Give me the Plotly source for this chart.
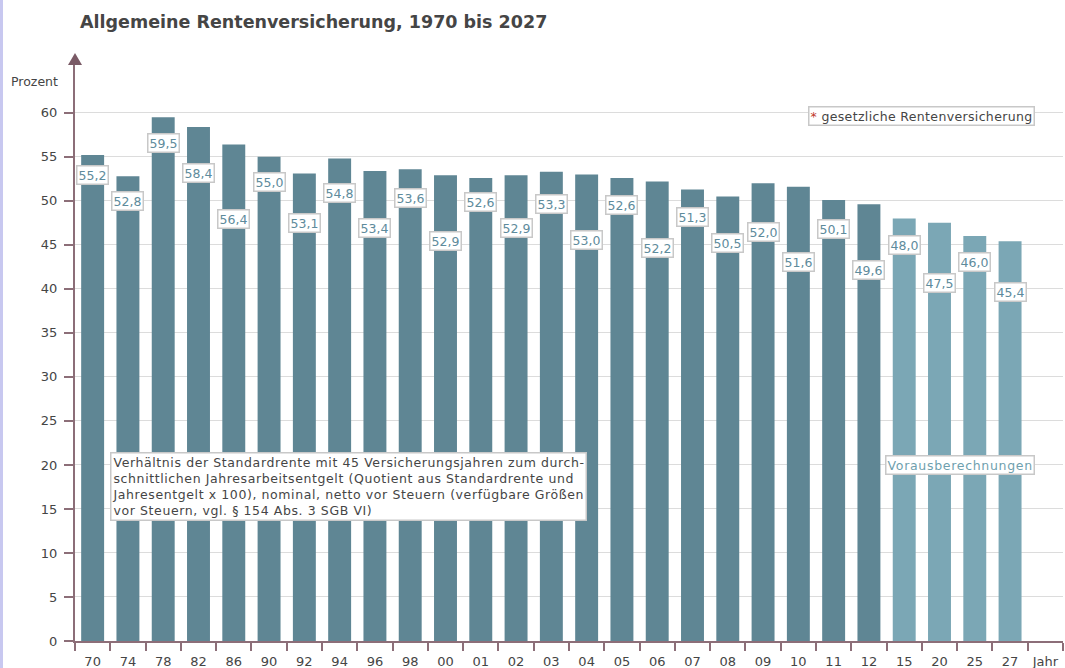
import plotly.graph_objects as go

years = ["70", "74", "78", "82", "86", "90", "92", "94", "96", "98", "00", "01", "02",
         "03", "04", "05", "06", "07", "08", "09", "10", "11", "12", "15", "20", "25", "27"]
values = [55.2, 52.8, 59.5, 58.4, 56.4, 55.0, 53.1, 54.8, 53.4, 53.6, 52.9, 52.6, 52.9,
          53.3, 53.0, 52.6, 52.2, 51.3, 50.5, 52.0, 51.6, 50.1, 49.6, 48.0, 47.5, 46.0, 45.4]
projected = [False] * 23 + [True] * 4
extra_category = "Jahr"
y_ticks = list(range(0, 61, 5))

# style: label drop below bar top (pixels)
label_drop = [20, 25, 26, 46, 74, 25, 49, 34, 57, 29, 66, 24, 53, 32, 66, 27, 67, 28, 47,
              49, 75, 29, 66, 27, 60, 26, 51]

DARK = "#5f8694"
LIGHT = "#7ba7b5"
MAUVE = "#8c6e78"
FONT = "DejaVu Sans"

colors = [LIGHT if p else DARK for p in projected]


def spaced(s, ls="0.6px"):
    return f"<span style='letter-spacing:{ls}'>{s}</span>"


fig = go.Figure()
fig.add_trace(go.Bar(x=years, y=values, marker=dict(color=colors, line=dict(width=0)),
                     hoverinfo="skip", showlegend=False))

annotations = []
for i, v in enumerate(values):
    annotations.append(dict(
        x=i, y=v, yshift=-label_drop[i], text=f"{v:.1f}".replace(".", ","),
        showarrow=False, font=dict(family=FONT, size=12.5, color="#5e8b9c"),
        bgcolor="white", bordercolor="#c8c8c8", borderwidth=1.5, borderpad=1,
        xanchor="center", yanchor="middle"))

box = dict(bgcolor="white", bordercolor="#c8c8c8", borderwidth=1.5, borderpad=1, showarrow=False)
desc_lines = [
    "Verhältnis der Standardrente mit 45 Versicherungsjahren zum durch-",
    "schnittlichen Jahresarbeitsentgelt (Quotient aus Standardrente und",
    "Jahresentgelt x 100), nominal, netto vor Steuern (verfügbare Größen",
    "vor Steuern, vgl. § 154 Abs. 3 SGB VI)",
]
annotations += [
    dict(xref="paper", yref="paper", x=0.0, y=1.0, xshift=3, yshift=38,
         text="<b>Allgemeine Rentenversicherung, 1970 bis 2027</b>",
         showarrow=False, xanchor="left", yanchor="middle", font=dict(family=FONT, size=17.5, color="#454545")),
    dict(xref="paper", yref="paper", x=0.0, y=1.0, xshift=-15, yshift=-21, text="Prozent",
         showarrow=False, xanchor="right", yanchor="middle", font=dict(family=FONT, size=12.5, color="#454545")),
    dict(xref="paper", x=0.742, y=59.6,
         text=spaced("<span style='color:#c0392b'>*</span> gesetzliche Rentenversicherung", "0.35px"),
         xanchor="left", yanchor="middle", font=dict(family=FONT, size=12.5, color="#454545"), **box),
    dict(xref="paper", x=0.82, y=20.0, text=spaced("Vorausberechnungen", "0.7px"),
         xanchor="left", yanchor="middle", font=dict(family=FONT, size=12.5, color="#6f9fae"), **box),
    dict(xref="paper", x=0.0354, y=17.5,
         text="<br>".join(spaced(s, "0.6px") for s in desc_lines),
         align="left", xanchor="left", yanchor="middle",
         font=dict(family=FONT, size=12.5, color="#454545"), **box),
]

shapes = [
    # arrow head on y axis
    dict(type="path", xref="paper", yref="paper", xsizemode="pixel", ysizemode="pixel",
         xanchor=0, yanchor=1, path="M -7,-5 L 7,-5 L 0,7 Z",
         fillcolor="#7a5a66", line=dict(width=0)),
    # left page border
    dict(type="rect", xref="paper", yref="paper", xsizemode="pixel", ysizemode="scaled",
         xanchor=0, x0=-75, x1=-72, y0=-0.1, y1=1.2, fillcolor="#c8c8f0", line=dict(width=0)),
]

fig.update_layout(
    width=1065, height=668,
    margin=dict(l=75, r=2, t=60, b=27),
    paper_bgcolor="white", plot_bgcolor="white",
    bargap=0.35,
    annotations=annotations, shapes=shapes,
    font=dict(family=FONT, color="#454545"),
    xaxis=dict(type="category", categoryorder="array", categoryarray=years + [extra_category],
               range=[-0.5, len(years) + 0.5], tickangle=0,
               showline=True, linecolor=MAUVE, linewidth=1.5,
               ticks="outside", tickson="boundaries", ticklen=8, tickcolor=MAUVE, tickwidth=1.5,
               ticklabelstandoff=8,
               tickfont=dict(family=FONT, size=13, color="#454545"),
               showgrid=False, zeroline=False, automargin=False, fixedrange=True),
    yaxis=dict(range=[0, 66], tickvals=y_ticks, showline=True, linecolor=MAUVE, linewidth=2,
               ticks="outside", ticklen=9, tickcolor=MAUVE, tickwidth=1.5,
               ticklabelstandoff=4,
               tickfont=dict(family=FONT, size=13, color="#454545"),
               showgrid=True, gridcolor="#dcdcdc", gridwidth=1,
               zeroline=False, automargin=False, fixedrange=True),
)

# invisible point so the "Jahr" category exists on the axis
fig.add_trace(go.Scatter(x=[extra_category], y=[0], mode="markers",
                         marker=dict(opacity=0), hoverinfo="skip", showlegend=False))

fig.write_html("out.html", config={"displayModeBar": False},
               post_script="document.body.style.margin='0px';")
